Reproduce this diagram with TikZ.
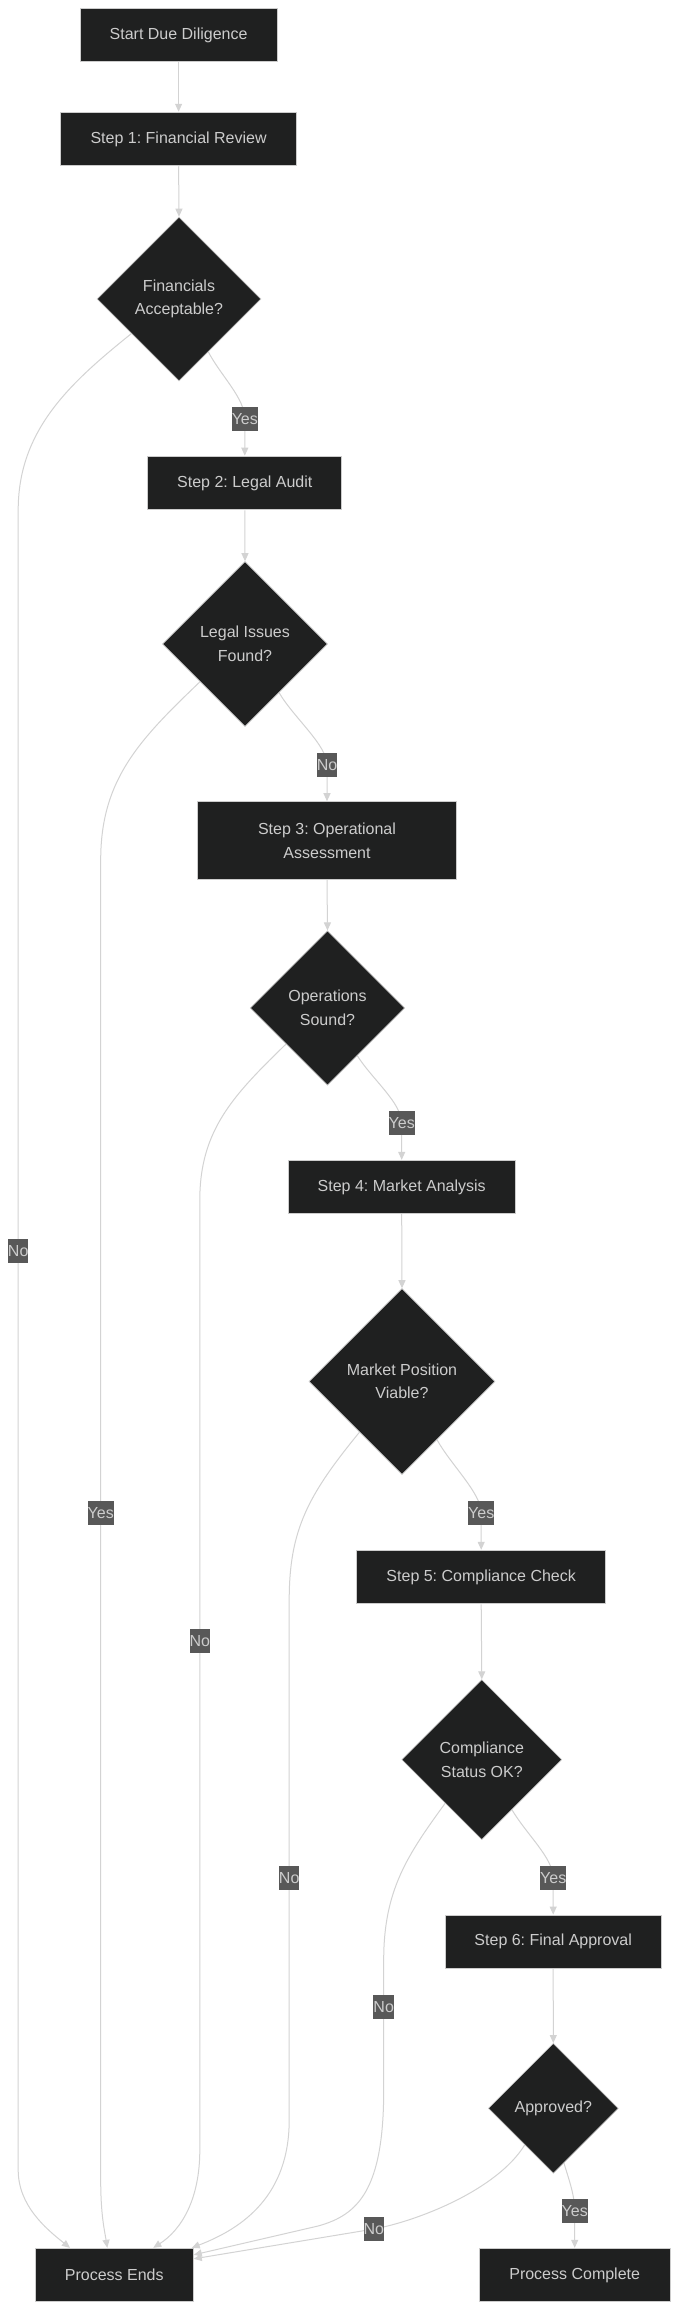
\documentclass[tikz,border=0pt]{standalone}
\usepackage{fontspec}
\setmainfont{Liberation Sans}
\usetikzlibrary{shapes.geometric,arrows.meta}
\definecolor{nodefill}{HTML}{1F2020}
\definecolor{nodeline}{HTML}{CCCCCC}
\definecolor{txt}{HTML}{CCCCCC}
\definecolor{edgec}{HTML}{D3D3D3}
\definecolor{lblbg}{HTML}{585858}
\pgfdeclarelayer{paper}
\pgfdeclarelayer{wires}
\pgfsetlayers{paper,wires,main}
\frenchspacing
\begin{document}
\begin{tikzpicture}[x=1pt,y=-1pt,
  box/.style={draw=nodeline, line width=1pt, fill=nodefill, text=txt, inner sep=0pt, align=center, font=\fontsize{16}{23.5}\selectfont},
  dec/.style={diamond, aspect=1, draw=nodeline, line width=0.6pt, fill=nodefill, text=txt, inner sep=0pt, align=center, font=\fontsize{16}{23.5}\selectfont},
  lbl/.style={fill=lblbg, text=txt, inner sep=0pt, minimum height=24pt, font=\fontsize{16}{19}\selectfont},
  edge/.style={draw=edgec, line width=1pt, -{Triangle[length=8pt,width=7pt]}}
]
\begin{pgfonlayer}{paper}
\fill[white] (0,0) rectangle (678,2310);
\end{pgfonlayer}
\useasboundingbox (0,0) rectangle (678,2310);

% process boxes and decisions
\node[box, minimum width=197pt, minimum height=53.5pt] (start) at (178.6,35) {Start Due Diligence};
\node[box, minimum width=235.6pt, minimum height=53.5pt] (s1) at (178.6,139) {Step 1: Financial Review};
\node[dec, minimum size=164pt] (fin) at (179,299) {Financials\\Acceptable?};
\node[box, minimum width=194.3pt, minimum height=53.7pt] (s2) at (244.8,483) {Step 2: Legal Audit};
\node[dec, minimum size=165pt] (legal) at (245,644) {Legal Issues\\Found?};
\node[box, minimum width=259.5pt, minimum height=78pt] (s3) at (327,840.7) {Step 3: Operational\\Assessment};
\node[dec, minimum size=154.5pt] (ops) at (327.5,1008) {Operations\\Sound?};
\node[box, minimum width=227.3pt, minimum height=53.4pt] (s4) at (401.7,1187) {Step 4: Market Analysis};
\node[dec, minimum size=186pt] (mkt) at (402,1381.5) {Market Position\\Viable?};
\node[box, minimum width=249.5pt, minimum height=53.5pt] (s5) at (481.2,1577) {Step 5: Compliance Check};
\node[dec, minimum size=160pt] (comp) at (481.8,1759.6) {Compliance\\Status OK?};
\node[box, minimum width=216pt, minimum height=53.3pt] (s6) at (553.2,1941.7) {Step 6: Final Approval};
\node[dec, minimum size=130pt] (appr) at (553.3,2108.3) {Approved?};
\node[box, minimum width=158pt, minimum height=53.4pt] (pe) at (114.3,2275) {Process Ends};
\node[box, minimum width=190.7pt, minimum height=53.4pt] (pc) at (574.7,2275) {Process Complete};

% edge labels
\node[lbl] (y1) at (244.8,419) {Yes};
\node[lbl] (n2) at (327,765) {No};
\node[lbl] (y3) at (401.7,1123) {Yes};
\node[lbl] (y4) at (481.2,1513) {Yes};
\node[lbl] (y5) at (553.2,1878) {Yes};
\node[lbl] (y6) at (574.7,2211) {Yes};
\node[lbl] (n1) at (18.2,1251) {No};
\node[lbl] (y2) at (100.7,1513) {Yes};
\node[lbl] (n3) at (199.8,1641) {No};
\node[lbl] (n4) at (289.2,1878) {No};
\node[lbl] (n5) at (383.7,2007) {No};
\node[lbl] (n6) at (373.8,2229) {No};

\begin{pgfonlayer}{wires}
\draw[edge] (start.south) -- (s1.north);
\draw[edge] (s1.south) -- (fin.north);
\draw[edge] (fin.-61) .. controls (221,376) and (244.8,398) .. (y1.center) -- (s2.north);
\draw[edge] (s2.south) -- (legal.north);
\draw[edge] (legal.-55) .. controls (294,718) and (327,745) .. (n2.center) -- (s3.north);
\draw[edge] (s3.south) -- (ops.north);
\draw[edge] (ops.-58) .. controls (372,1079) and (401.7,1103) .. (y3.center) -- (s4.north);
\draw[edge] (s4.south) -- (mkt.north);
\draw[edge] (mkt.-59) .. controls (451,1465) and (481.2,1493) .. (y4.center) -- (s5.north);
\draw[edge] (s5.south) -- (comp.north);
\draw[edge] (comp.-59) .. controls (527,1835) and (553.2,1858) .. (y5.center) -- (s6.north);
\draw[edge] (s6.south) -- (appr.north);
\draw[edge] (appr.-79) .. controls (569,2180) and (574.7,2195) .. (y6.center) -- (pc.north);

\draw[edge] (fin.216) .. controls (70,383) and (18.2,430) .. (18.2,510) -- (n1.center) -- (18.2,2170) .. controls (18.2,2205) and (45,2228) .. ([xshift=-44.3pt]pe.north);
\draw[edge] (legal.220) .. controls (139,740) and (100.7,780) .. (100.7,860) -- (y2.center) -- (100.7,2180) .. controls (100.7,2215) and (104.5,2230) .. ([xshift=-7pt]pe.north);
\draw[edge] (ops.221) .. controls (233.6,1095) and (199.8,1130) .. (199.8,1200) -- (n3.center) -- (199.8,2150) .. controls (199.8,2200) and (181,2230) .. ([xshift=39pt]pe.north);
\draw[edge] (mkt.230) .. controls (308,1495) and (289.2,1530) .. (289.2,1600) -- (n4.center) -- (289.2,2120) .. controls (289.2,2195) and (243.5,2228) .. ([xshift=77.4pt]pe.north);
\draw[edge] (comp.230) .. controls (407.5,1855) and (383.7,1890) .. (383.7,1960) -- (n5.center) -- (383.7,2090) .. controls (383.7,2190) and (358,2215) .. (318,2226) -- ([yshift=-7pt]pe.north east);
\draw[edge] (appr.232) .. controls (497,2190) and (417.5,2221) .. (n6.center) -- ([yshift=-11pt]pe.north east);
\end{pgfonlayer}
\end{tikzpicture}
\end{document}
